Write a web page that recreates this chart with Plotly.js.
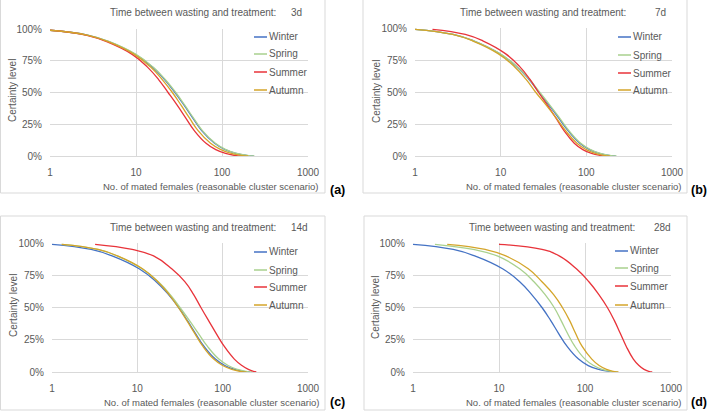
<!DOCTYPE html>
<html>
<head>
<meta charset="utf-8">
<script src="https://cdn.plot.ly/plotly-3.0.1.min.js"></script>
<style>html,body{margin:0;padding:0;background:#fff}#chart{width:709px;height:412px}</style>
</head>
<body>
<div id="chart"></div>
<script>
// ---------- data ----------
const seasons = ['Winter', 'Spring', 'Summer', 'Autumn'];
const panelDays = ['3d', '7d', '14d', '28d'];
const panelLabels = ['(a)', '(b)', '(c)', '(d)'];
const titleText = 'Time between wasting and treatment:';
const xAxisTitle = 'No. of mated females (reasonable cluster scenario)';
const yAxisTitle = 'Certainty level';
const xTickVals = [1, 10, 100, 1000];
const xTickText = ['1', '10', '100', '1000'];
const yTickVals = [0, 0.25, 0.5, 0.75, 1];
const yTickText = ['0%', '25%', '50%', '75%', '100%'];

// certainty levels at which each curve's number of mated females was read
const certaintyLevels = [0.99, 0.95, 0.9, 0.8, 0.7, 0.6, 0.5, 0.4, 0.3, 0.2, 0.1, 0.05, 0.02, 0.005, 0];

// (a) 3d — no. of mated females at each certainty level
const aWinter = [1, 2.8, 4.83, 9.8, 15.5, 21.6, 28.4, 36.2, 45.6, 58, 82, 109, 146, 192, 234];
const aSpring = [1, 2.82, 4.9, 10, 15.8, 22, 29, 36.9, 46.5, 59.2, 83.6, 111, 149, 196, 238];
const aSummer = [1, 2.69, 4.56, 9.02, 13.6, 18.4, 23.6, 30.1, 37.8, 47.6, 65.2, 84.7, 110, 141, 170];
const aAutumn = [1, 2.76, 4.74, 9.55, 14.8, 20.3, 26.5, 33.4, 41.8, 52.7, 73.6, 97, 128, 167, 202];

// (b) 7d
const bWinter = [1, 2.79, 4.83, 9.7, 15.3, 21.3, 27.9, 36.4, 47.2, 60.8, 83.8, 109, 142, 183, 220];
const bSpring = [1, 2.79, 4.83, 9.77, 15.5, 21.6, 28.4, 37.3, 48.4, 62.4, 86.1, 112, 146, 188, 225];
const bSummer = [1.6, 3.86, 6.18, 11.35, 16.6, 21.9, 27.5, 34.9, 43.9, 54.6, 72.3, 91, 115, 143, 167];
const bAutumn = [1, 2.74, 4.68, 9.33, 14.4, 19.7, 25.5, 33.8, 44.2, 56.9, 77.6, 100, 127, 160, 188];

// (c) 14d
const cWinter = [1, 2.88, 5.06, 10.5, 16.6, 23.2, 30.5, 38.5, 47.9, 60.3, 82.2, 106, 138, 175, 208];
const cSpring = [1.3, 3.44, 5.79, 11.35, 17.6, 24.3, 31.6, 40.7, 51.9, 66.1, 90.2, 116, 150, 188, 221];
const cSummer = [3.2, 8.7, 15.5, 25.3, 36, 45.7, 55.6, 68.1, 83.8, 104, 137, 168, 200, 229, 248];
const cAutumn = [1.3, 3.47, 5.85, 11.5, 17.4, 23.6, 30.3, 37.9, 47, 58.5, 78.5, 100, 128, 161, 190];

// (d) 28d
const dWinter = [1, 2.94, 5.22, 11, 17.4, 24, 31.6, 39.8, 49.2, 61.7, 84.1, 109, 144, 190, 231];
const dSpring = [1.8, 5.01, 9.55, 17.4, 25.5, 34.4, 43.8, 52.6, 62.5, 76, 100, 126, 158, 200, 240];
const dSummer = [10, 31.6, 50.1, 79.4, 111, 145, 182, 219, 257, 301, 365, 424, 486, 552, 605];
const dAutumn = [2.5, 6.92, 12, 21.9, 31.6, 43.2, 54.6, 66.1, 77.6, 92.3, 120, 146, 178, 214, 245];

const seriesX = [
  [aWinter, aSpring, aSummer, aAutumn],
  [bWinter, bSpring, bSummer, bAutumn],
  [cWinter, cSpring, cSummer, cAutumn],
  [dWinter, dSpring, dSummer, dAutumn]
];

// ---------- styling / layout ----------
const colors = ['#4472C4', '#A9D18E', '#E8333A', '#D4A52A'];
const W = 709, H = 412;
const FONT = 'Liberation Sans, Arial, sans-serif';
const GRAY = '#595959';
const GRID = '#D9D9D9';
const fx = v => v / W;
const fy = v => 1 - v / H;

// pixel geometry of each panel
const geo = [
  {l:50,  r:308, t:29,  b:156, box:[0.5,-2,325,193],  tEnd:278, tVal:289, tY:13,  lbl:[337,190], xtR:320, xtY:186, ytX:12,  ytY:91,  legX:254, legY:[37,54,72,90],     legBg:[249,31,308,99]},
  {l:415, r:672, t:28,  b:156, box:[363,-2,687,193],  tEnd:628, tVal:653, tY:13,  lbl:[699,190], xtR:683, xtY:186, ytX:376, ytY:91,  legX:618, legY:[37,55,73,90],     legBg:[613,31,672,99]},
  {l:52,  r:308, t:243, b:372, box:[0.5,216,325,410], tEnd:278, tVal:289, tY:227, lbl:[337,402], xtR:321, xtY:402, ytX:13,  ytY:306, legX:254, legY:[252,270,287,305], legBg:[249,245,308,314]},
  {l:413, r:671, t:243, b:372, box:[364,216,687,410], tEnd:637, tVal:652, tY:227, lbl:[699,402], xtR:683, xtY:402, ytX:375, ytY:307, legX:615, legY:[251,268,286,305], legBg:[610,245,671,314]}
];

const traces = [];
const layout = {
  width: W, height: H,
  margin: {l:0, r:0, t:0, b:0},
  paper_bgcolor: '#ffffff', plot_bgcolor: '#ffffff',
  showlegend: false,
  font: {family: FONT, size: 10, color: GRAY},
  annotations: [], shapes: []
};

geo.forEach((g, p) => {
  const sfx = p === 0 ? '' : String(p + 1);
  layout['xaxis' + sfx] = {
    type: 'log', range: [0, 3], domain: [fx(g.l), fx(g.r)], anchor: 'y' + sfx,
    tickvals: xTickVals, ticktext: xTickText, ticks: '',
    showgrid: true, gridcolor: GRID, gridwidth: 1,
    showline: true, linecolor: GRID, linewidth: 1, zeroline: false,
    tickfont: {family: FONT, size: 10, color: GRAY}, ticklabelstandoff: 7,
    fixedrange: true
  };
  layout['yaxis' + sfx] = {
    range: [0, 1], domain: [fy(g.b), fy(g.t)], anchor: 'x' + sfx,
    tickvals: yTickVals, ticktext: yTickText, ticks: '',
    showgrid: true, gridcolor: GRID, gridwidth: 1,
    showline: false, zeroline: false,
    tickfont: {family: FONT, size: 10, color: GRAY}, ticklabelstandoff: 7,
    fixedrange: true
  };
  seasons.forEach((s, i) => {
    traces.push({
      type: 'scatter', mode: 'lines', name: s,
      x: seriesX[p][i], y: certaintyLevels,
      xaxis: 'x' + sfx, yaxis: 'y' + sfx,
      line: {color: colors[i], width: 1.3, shape: 'spline', smoothing: 1.3},
      hoverinfo: 'skip'
    });
  });
  // panel border
  layout.shapes.push({type:'rect', xref:'paper', yref:'paper', layer:'below',
    x0: fx(g.box[0]), x1: fx(g.box[2]), y0: fy(g.box[3]), y1: fy(g.box[1]),
    line:{color: GRID, width: 1}, fillcolor:'rgba(0,0,0,0)'});
  // legend background (covers gridlines)
  layout.shapes.push({type:'rect', xref:'paper', yref:'paper', layer:'between',
    x0: fx(g.legBg[0]), x1: fx(g.legBg[2]), y0: fy(g.legBg[3]), y1: fy(g.legBg[1]),
    line:{width:0}, fillcolor:'#ffffff'});
  // legend entries
  seasons.forEach((s, i) => {
    layout.shapes.push({type:'line', xref:'paper', yref:'paper', layer:'above',
      x0: fx(g.legX), x1: fx(g.legX + 13), y0: fy(g.legY[i]), y1: fy(g.legY[i]),
      line:{color: colors[i], width: 1.5}});
    layout.annotations.push({xref:'paper', yref:'paper', x: fx(g.legX + 13), y: fy(g.legY[i]),
      xanchor:'left', yanchor:'middle', showarrow:false, text: s,
      font:{family: FONT, size: 10, color: GRAY}});
  });
  // panel title
  layout.annotations.push({xref:'paper', yref:'paper', x: fx(g.tEnd), y: fy(g.tY),
    xanchor:'right', yanchor:'middle', showarrow:false, text: titleText,
    font:{family: FONT, size: 10, color: GRAY}});
  layout.annotations.push({xref:'paper', yref:'paper', x: fx(g.tVal), y: fy(g.tY),
    xanchor:'left', yanchor:'middle', showarrow:false, text: panelDays[p],
    font:{family: FONT, size: 10, color: GRAY}});
  // axis titles
  layout.annotations.push({xref:'paper', yref:'paper', x: fx(g.xtR), y: fy(g.xtY),
    xanchor:'right', yanchor:'middle', showarrow:false, text: xAxisTitle,
    font:{family: FONT, size: 9.5, color: GRAY}});
  layout.annotations.push({xref:'paper', yref:'paper', x: fx(g.ytX), y: fy(g.ytY),
    xanchor:'center', yanchor:'middle', showarrow:false, text: yAxisTitle, textangle: -90,
    font:{family: FONT, size: 10, color: GRAY}});
  // panel label
  layout.annotations.push({xref:'paper', yref:'paper', x: fx(g.lbl[0]), y: fy(g.lbl[1]),
    xanchor:'center', yanchor:'middle', showarrow:false, text: '<b>' + panelLabels[p] + '</b>',
    font:{family: FONT, size: 12.5, color: '#000000'}});
});

Plotly.newPlot('chart', traces, layout, {displayModeBar: false, staticPlot: true});
</script>
</body>
</html>
